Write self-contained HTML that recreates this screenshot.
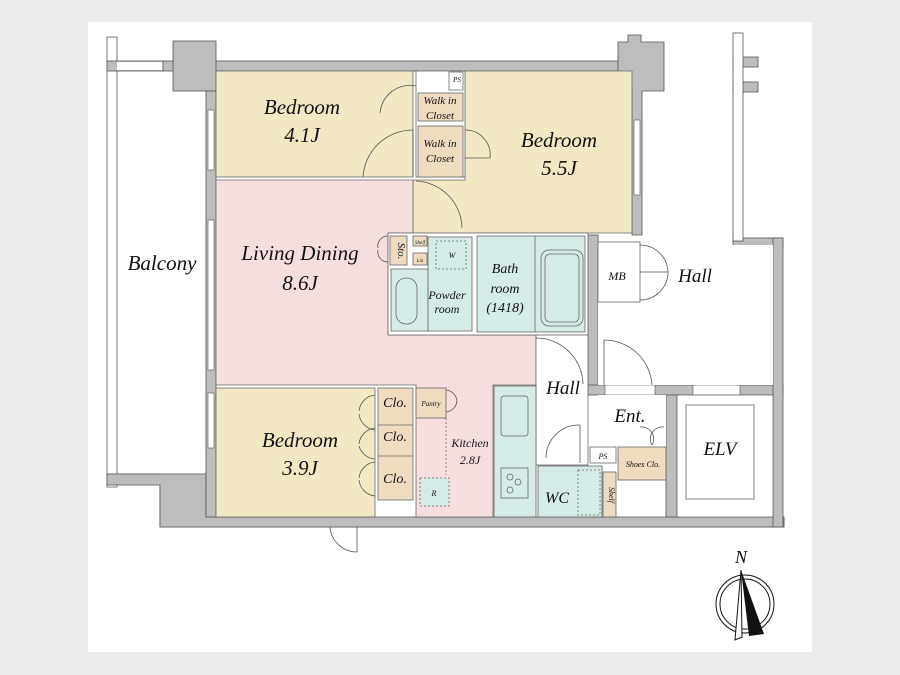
<!DOCTYPE html>
<html><head><meta charset="utf-8"><style>
html,body{margin:0;padding:0;background:#ececec;}
svg{display:block;}
text{font-family:"Liberation Serif",serif;font-style:italic;fill:#111;text-anchor:middle;}
</style></head><body>
<svg width="900" height="675" viewBox="0 0 900 675" xmlns="http://www.w3.org/2000/svg">
<rect x="0" y="0" width="900" height="675" fill="#ececec"/>
<rect x="88" y="22" width="724" height="630" fill="#fff"/>
<g stroke="#555" stroke-width="0.8">
<rect x="107" y="37" width="10" height="450" fill="#fff"/>
<rect x="107" y="61" width="56" height="10" fill="#bdbdbd"/>
<rect x="117" y="62" width="46" height="8" fill="#fff" stroke="none"/>
<path d="M107 474 H160 V527 H784 V517" fill="none"/>
</g>
<g fill="#bdbdbd" stroke="#555" stroke-width="0.8">
<path d="M107 474 H206 V517 H784 V527 H160 V485 H107 Z"/>
<rect x="163" y="61" width="470" height="10"/>
<rect x="173" y="41" width="43" height="50"/>
<rect x="206" y="91" width="10" height="426"/>
<path d="M618 42 H628 V35 H641 V42 H664 V91 H642 V235 H632 V91 H618 Z"/>
<rect x="588" y="235" width="10" height="155"/>
<rect x="588" y="385" width="195" height="10"/>
<rect x="733" y="238" width="50" height="10"/>
<rect x="773" y="238" width="10" height="289"/>
<rect x="666" y="395" width="11" height="122"/>
<rect x="733" y="57" width="25" height="10"/>
<rect x="733" y="82" width="25" height="10"/>
</g>
<g fill="#fff" stroke="#555" stroke-width="0.6">
<rect x="605" y="385" width="50" height="10"/>
<rect x="693" y="385" width="47" height="10"/>
</g>
<rect x="733" y="33" width="10" height="208" fill="#fff" stroke="#555" stroke-width="0.8"/>
<g stroke="#666" stroke-width="0.8">
<rect x="216" y="71" width="197" height="106" fill="#f3e8c4"/>
<path d="M465 71 H632 V233 H413 V180 H465 Z" fill="#f3e8c4"/>
<rect x="416" y="71" width="49" height="106" fill="#fff"/>
<rect x="418" y="93" width="45" height="28" fill="#efdcc0"/>
<rect x="418" y="126" width="45" height="51" fill="#efdcc0"/>
<rect x="449" y="72" width="14" height="18" fill="#fff"/>
<path d="M216 180 H413 V233 H388 V335 H536 V385 H493 V517 H416 V385 H216 Z" fill="#f7dede"/>
<rect x="388" y="233" width="200" height="102" fill="#fff"/>
<rect x="391" y="269" width="37" height="62" fill="#d5ebe8"/>
<rect x="428" y="237" width="44" height="94" fill="#d5ebe8"/>
<rect x="477" y="236" width="108" height="96" fill="#d5ebe8"/>
<line x1="535" y1="236" x2="535" y2="332"/>
<rect x="541" y="250" width="42" height="76" rx="8" fill="#d5ebe8"/>
<rect x="545" y="254" width="34" height="68" rx="5" fill="#d5ebe8"/>
<rect x="390" y="236" width="17" height="29" fill="#efdcc0"/>
<rect x="413" y="236" width="14" height="10" fill="#efdcc0"/>
<rect x="413" y="253" width="14" height="12" fill="#efdcc0"/>
<rect x="396" y="278" width="21" height="46" rx="10" fill="#d5ebe8"/>
<rect x="436" y="241" width="30" height="28" fill="none" stroke-dasharray="2,2"/>
<rect x="536" y="335" width="52" height="130" fill="#fff"/>
<rect x="494" y="386" width="42" height="131" fill="#d5ebe8"/>
<rect x="501" y="396" width="27" height="40" rx="3" fill="#d5ebe8"/>
<rect x="501" y="468" width="27" height="30" fill="#d5ebe8"/>
<circle cx="510" cy="477" r="3" fill="none"/><circle cx="518" cy="482" r="3" fill="none"/><circle cx="510" cy="490" r="3" fill="none"/>
<rect x="538" y="466" width="64" height="51" fill="#d5ebe8"/>
<rect x="603" y="472" width="13" height="45" fill="#efdcc0"/>
<rect x="578" y="470" width="22" height="45" fill="none" stroke-dasharray="2,2"/>
<rect x="598" y="395" width="68" height="60" fill="#fff" stroke="none"/>
<rect x="590" y="447" width="26" height="16" fill="#fff"/>
<rect x="618" y="447" width="48" height="33" fill="#efdcc0"/>
<rect x="677" y="395" width="96" height="122" fill="#fff"/>
<rect x="686" y="405" width="68" height="94" fill="#fff"/>
<rect x="598" y="245" width="175" height="140" fill="#fff" stroke="none"/>
<rect x="598" y="242" width="42" height="60" fill="#fff"/>
<rect x="216" y="388" width="159" height="129" fill="#f3e8c4"/>
<rect x="378" y="388" width="35" height="112" fill="#efdcc0"/>
<line x1="378" y1="425" x2="413" y2="425"/><line x1="378" y1="456" x2="413" y2="456"/>
<rect x="416" y="388" width="30" height="30" fill="#efdcc0"/>
<rect x="420" y="478" width="29" height="28" fill="#d5ebe8" stroke-dasharray="2,2"/>
<path d="M446 418 V475" fill="none" stroke-dasharray="2,2"/>
</g>
<g fill="none" stroke="#555" stroke-width="0.8">
<path d="M413 130 A50 50 0 0 0 363 177"/><line x1="413" y1="130" x2="413" y2="177"/>
<path d="M416 181 A48 48 0 0 1 462 228"/>
<path d="M465 130 A25 25 0 0 1 490 158 L465 158"/>
<path d="M416 86 A30 30 0 0 0 380 113"/>
<path d="M536 338 A47 47 0 0 1 583 384"/>
<path d="M604 340 A48 48 0 0 1 652 385 M604 340 V385"/>
<path d="M640 245 A28 28 0 0 1 668 272 L640 272 M640 300 A28 28 0 0 0 668 272"/>
<path d="M580 425 A33 33 0 0 0 546 458 M580 425 V463"/>
<path d="M375 395 A18 18 0 0 0 359 411 M375 428 A18 18 0 0 0 359 444 M375 430 A18 18 0 0 1 359 414 M375 462 A18 18 0 0 0 359 478 M375 496 A18 18 0 0 1 359 480 M375 459 A18 18 0 0 1 359 446"/>
<path d="M357 527 V552 A27 27 0 0 1 330 527"/>
<path d="M640 427 A12 12 0 0 1 652 445 M664 427 A12 12 0 0 0 652 445"/>
<path d="M446 390 A12 12 0 0 1 457 402 M446 412 A12 12 0 0 0 457 400"/>
<path d="M388 236 A10 10 0 0 0 378 248 M388 262 A10 10 0 0 1 378 250"/>
</g>
<g fill="#fff" stroke="#555" stroke-width="0.6">
<rect x="208" y="110" width="6" height="60"/><rect x="208" y="220" width="6" height="150"/><rect x="208" y="393" width="6" height="55"/><rect x="634" y="120" width="6" height="75"/>
</g>
<text x="302" y="114" font-size="21">Bedroom</text><text x="302" y="142" font-size="21">4.1J</text>
<text x="559" y="147" font-size="21">Bedroom</text><text x="559" y="175" font-size="21">5.5J</text>
<text x="300" y="260" font-size="21">Living Dining</text><text x="300" y="290" font-size="21">8.6J</text>
<text x="162" y="270" font-size="21">Balcony</text>
<text x="300" y="447" font-size="21">Bedroom</text><text x="300" y="475" font-size="21">3.9J</text>
<text x="440" y="104" font-size="11">Walk in</text><text x="440" y="119" font-size="11">Closet</text>
<text x="440" y="147" font-size="11">Walk in</text><text x="440" y="162" font-size="11">Closet</text>
<text x="457" y="82" font-size="7">PS</text>
<text x="505" y="273" font-size="14">Bath</text><text x="505" y="293" font-size="14">room</text><text x="505" y="312" font-size="14">(1418)</text>
<text x="447" y="299" font-size="12">Powder</text><text x="447" y="313" font-size="12">room</text>
<text x="452" y="258" font-size="8">W</text>
<text x="617" y="280" font-size="12">MB</text>
<text x="695" y="282" font-size="19">Hall</text>
<text x="563" y="394" font-size="19">Hall</text>
<text x="630" y="422" font-size="19">Ent.</text>
<text x="720" y="455" font-size="19">ELV</text>
<text x="557" y="503" font-size="16">WC</text>
<text x="603" y="459" font-size="8">PS</text>
<text x="643" y="467" font-size="8">Shoes Clo.</text>
<text x="470" y="447" font-size="12">Kitchen</text><text x="470" y="464" font-size="12">2.8J</text>
<text x="395" y="407" font-size="14">Clo.</text><text x="395" y="441" font-size="14">Clo.</text><text x="395" y="483" font-size="14">Clo.</text>
<text x="431" y="406" font-size="7">Pantry</text>
<text x="434" y="496" font-size="8">R</text>
<text x="420" y="244" font-size="5">Shelf</text><text x="420" y="262" font-size="5">Lin</text>
<text x="398" y="251" font-size="11" transform="rotate(90 398 251)">Sto.</text>
<text x="609" y="495" font-size="8" transform="rotate(90 609 495)">Shelf</text>
<g fill="none" stroke="#111" stroke-width="1">
<circle cx="745" cy="604" r="29"/><circle cx="745" cy="604" r="25"/>
</g>
<path d="M741 570 L735 640 L742 637 Z" fill="#fff" stroke="#111"/>
<path d="M741 570 L764 634 L749 636 Z" fill="#111"/>
<text x="741" y="563" font-size="18">N</text>
</svg>
</body></html>
